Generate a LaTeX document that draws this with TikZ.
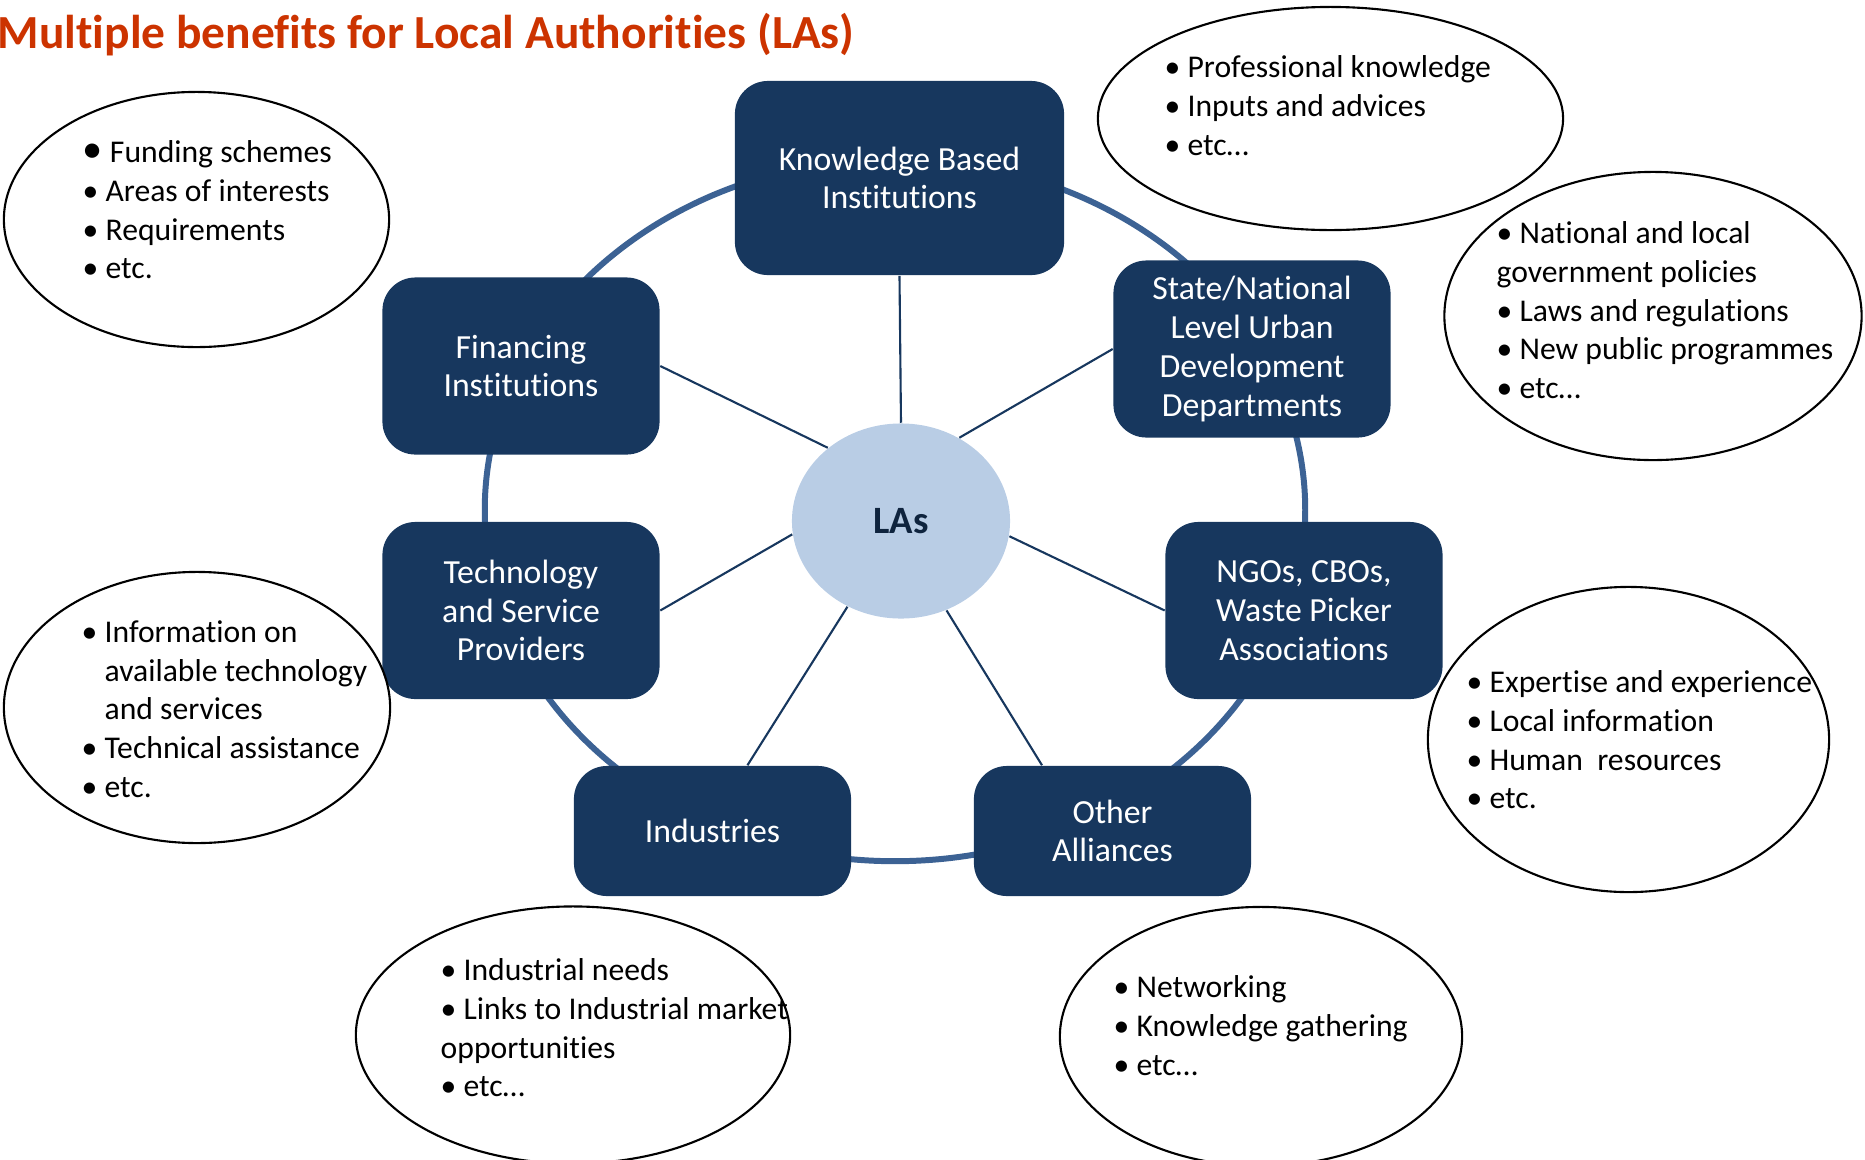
\documentclass[tikz,border=0pt]{standalone}
\usepackage{fontspec}
\setmainfont{Carlito}[Ligatures={NoCommon,NoContextual}]
\usetikzlibrary{shapes.geometric}
\definecolor{boxblue}{RGB}{23,55,94}
\definecolor{ringblue}{RGB}{60,98,148}
\definecolor{lasfill}{RGB}{185,205,229}
\definecolor{lastext}{RGB}{15,36,62}
\definecolor{titlered}{RGB}{204,51,0}
\begin{document}
\begin{tikzpicture}[x=0.01cm,y=-0.01cm,
    inst/.style={rectangle,rounded corners=0.33cm,fill=boxblue,text=white,align=center,
        font=\fontsize{9.6}{11}\selectfont,minimum width=2.77cm,minimum height=1.77cm},
    note/.style={ellipse,draw=black,line width=0.6pt},
    list/.style={anchor=north west,align=left,font=\fontsize{9}{11}\selectfont},
    spoke/.style={draw=boxblue,line width=0.6pt}]
    \tikzstyle{every node}+=[inner sep=0pt]
    \useasboundingbox (0,0) rectangle (1865,1160);
    \node [anchor=base west,text=titlered,font=\fontsize{13.5}{16}\selectfont\bfseries] (title) at (-3,48) {Multiple benefits for Local Authorities (LAs)};
    % ring behind the partners
    \draw [ringblue,line width=1.7pt] (895,510) ellipse [x radius=4.1cm,y radius=3.51cm];
    % LAs and partners
    \node [ellipse,fill=lasfill,minimum width=2.18cm,minimum height=1.95cm,text=lastext,font=\fontsize{11}{13}\selectfont\bfseries] (las) at (901,521) {LAs};
    \node [inst,minimum width=3.29cm,minimum height=1.94cm] (know) at (899.5,178) {Knowledge Based\\Institutions};
    \node [inst] (fin) at (521,366) {Financing\\Institutions};
    \node [inst] (state) at (1252,349) {State/National\\Level Urban\\Development\\Departments};
    \node [inst] (tech) at (521,610.5) {Technology\\and Service\\Providers};
    \node [inst] (ngo) at (1304,610.5) {NGOs, CBOs,\\Waste Picker\\Associations};
    \node [inst,minimum height=1.3cm] (ind) at (712.5,831) {Industries};
    \node [inst,minimum height=1.3cm] (other) at (1112.5,831) {Other\\Alliances};
    \draw [spoke] (know.south) -- (las.north);
    \draw [spoke] (fin.east) -- (las.135);
    \draw [spoke] (state.west) -- (las.55);
    \draw [spoke] (tech.east) -- (las.187);
    \draw [spoke] (ngo.west) -- (las.-8);
    \draw [spoke] (ind.62) -- (las.238);
    \draw [spoke] (other.137) -- (las.297);
    % benefit callouts
    \node [note,minimum width=3.85cm,minimum height=2.55cm] (finNote) at (196.5,219.5) {};
    \node [note,minimum width=4.65cm,minimum height=2.23cm] (knowNote) at (1330.5,118.5) {};
    \node [note,minimum width=4.17cm,minimum height=2.88cm] (stateNote) at (1653,316) {};
    \node [note,minimum width=3.86cm,minimum height=2.71cm] (techNote) at (197,707.5) {};
    \node [note,minimum width=4.01cm,minimum height=3.05cm] (ngoNote) at (1628.5,739.5) {};
    \node [note,minimum width=4.34cm,minimum height=2.57cm] (indNote) at (573,1035) {};
    \node [note,minimum width=4.02cm,minimum height=2.59cm] (otherNote) at (1261,1036.5) {};
    \node [list] (finList) at (82,140) {{\fontsize{11.5}{11}\selectfont •} Funding schemes\\• Areas of interests\\• Requirements\\• etc.};
    \node [list] (knowList) at (1164,55) {• Professional knowledge\\• Inputs and advices\\• etc…};
    \node [list] (stateList) at (1496,221) {• National and local\\government policies\\• Laws and regulations\\• New public programmes\\• etc…};
    \node [list] (techList) at (81,620) {• Information on\\\phantom{• }available technology\\\phantom{• }and services\\• Technical assistance\\• etc.};
    \node [list] (ngoList) at (1466,670) {• Expertise and experience\\• Local information\\• Human\ \ resources\\• etc.};
    \node [list] (indList) at (440,958) {• Industrial needs\\• Links to Industrial market\\opportunities\\• etc…};
    \node [list] (otherList) at (1113,975) {• Networking\\• Knowledge gathering\\• etc…};
\end{tikzpicture}
\end{document}
